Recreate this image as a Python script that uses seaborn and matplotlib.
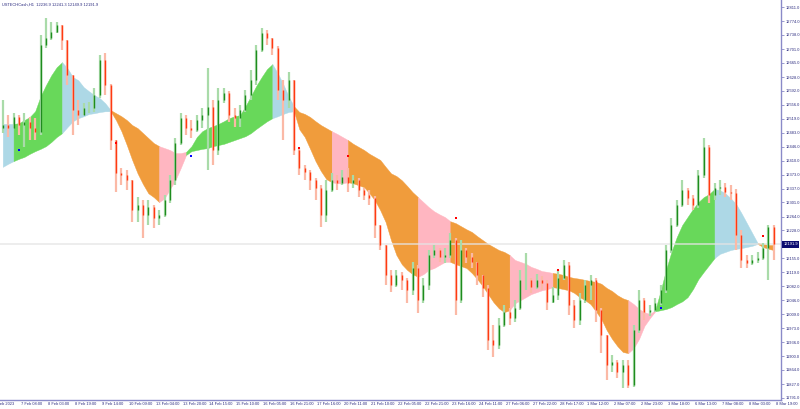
import matplotlib
matplotlib.use("Agg")
import matplotlib.pyplot as plt
import matplotlib.transforms as mtransforms
import seaborn as sns
import numpy as np
import pandas as pd

sns.set_style("white")
plt.rcParams['font.family'] = ['Liberation Sans', 'DejaVu Sans']

# --- data (H1 candles, resampled) ---
header = "USTECHCash,H1  12236.9 12241.3 12149.9 12191.9"
last_price = 12191.9
first_open = 12495

closes = [12503, 12495, 12524, 12503, 12511, 12495, 12485, 12712, 12730, 12746,
          12764, 12725, 12633, 12542, 12529, 12547, 12547, 12581, 12672, 12607,
          12464, 12378, 12372, 12359, 12281, 12294, 12268, 12289, 12260, 12268,
          12307, 12359, 12456, 12521, 12495, 12490, 12516, 12529, 12550, 12438,
          12568, 12586, 12529, 12521, 12542, 12581, 12620, 12699, 12743, 12730,
          12704, 12594, 12568, 12620, 12438, 12391, 12380, 12359, 12339, 12268,
          12333, 12359, 12352, 12367, 12352, 12359, 12333, 12320, 12312, 12242,
          12190, 12112, 12085, 12112, 12098, 12072, 12130, 12046, 12085, 12164,
          12177, 12158, 12164, 12203, 12046, 12177, 12158, 12145, 12112, 12078,
          11942, 11929, 11981, 12015, 11999, 12025, 12098, 12098, 12080, 12098,
          12091, 12041, 12059, 12104, 12138, 12033, 11994, 12046, 12085, 12098,
          12020, 11955, 11877, 11885, 11858, 11877, 11825, 11968, 12046, 12015,
          12020, 12038, 12072, 12177, 12242, 12294, 12333, 12312, 12294, 12372,
          12445, 12320, 12339, 12341, 12328, 12325, 12216, 12151, 12143, 12151,
          12156, 12182, 12236.9, 12191.9]

highs = [12568, 12529, 12534, 12529, 12534, 12524, 12521, 12738, 12782, 12772,
         12772, 12764, 12725, 12633, 12568, 12560, 12563, 12599, 12686, 12691,
         12610, 12464, 12391, 12385, 12359, 12315, 12307, 12307, 12295, 12281,
         12320, 12372, 12469, 12534, 12529, 12516, 12529, 12547, 12652, 12568,
         12599, 12599, 12592, 12547, 12555, 12594, 12646, 12712, 12756, 12751,
         12730, 12710, 12620, 12641, 12620, 12443, 12399, 12385, 12365, 12346,
         12359, 12378, 12372, 12385, 12391, 12372, 12365, 12339, 12333, 12318,
         12242, 12190, 12125, 12125, 12119, 12104, 12145, 12138, 12104, 12177,
         12190, 12182, 12182, 12221, 12208, 12203, 12182, 12169, 12145, 12112,
         12085, 11981, 11999, 12033, 12025, 12046, 12125, 12169, 12104, 12114,
         12109, 12098, 12080, 12125, 12151, 12145, 12046, 12065, 12098, 12112,
         12104, 12025, 11955, 11903, 11890, 11890, 11890, 11981, 12072, 12051,
         12033, 12051, 12085, 12190, 12260, 12307, 12359, 12339, 12320, 12385,
         12469, 12451, 12352, 12359, 12352, 12346, 12335, 12229, 12164, 12164,
         12171, 12195, 12242, 12241.3]

lows = [12482, 12472, 12495, 12477, 12445, 12464, 12464, 12477, 12704, 12725,
        12743, 12699, 12607, 12477, 12503, 12529, 12534, 12537, 12573, 12581,
        12438, 12328, 12346, 12333, 12250, 12250, 12208, 12242, 12234, 12242,
        12262, 12300, 12346, 12451, 12477, 12469, 12485, 12495, 12385, 12399,
        12425, 12560, 12511, 12498, 12498, 12537, 12568, 12607, 12693, 12712,
        12686, 12568, 12464, 12547, 12425, 12372, 12359, 12333, 12307, 12237,
        12250, 12328, 12333, 12346, 12328, 12339, 12315, 12307, 12294, 12208,
        12177, 12085, 12067, 12080, 12072, 12038, 12059, 12012, 12038, 12072,
        12156, 12145, 12143, 12156, 12007, 12040, 12143, 12130, 12085, 12054,
        11916, 11898, 11920, 11975, 11981, 11989, 12020, 12072, 12065, 12074,
        12072, 12020, 12038, 12046, 12098, 12007, 11973, 11981, 12040, 12046,
        11989, 11908, 11838, 11858, 11843, 11817, 11817, 11820, 11960, 11994,
        12005, 12015, 12033, 12065, 12170, 12236, 12288, 12294, 12281, 12286,
        12365, 12299, 12307, 12320, 12315, 12307, 12177, 12130, 12130, 12138,
        12143, 12150, 12098, 12149.9]

band_top = [12506, 12506, 12506, 12508, 12516, 12524, 12539, 12578, 12607, 12633,
            12654, 12667, 12651, 12628, 12620, 12602, 12591, 12581, 12573, 12560,
            12542, 12534, 12526, 12516, 12503, 12495, 12482, 12469, 12456, 12448,
            12443, 12438, 12430, 12430, 12433, 12448, 12472, 12487, 12495, 12500,
            12506, 12513, 12521, 12526, 12529, 12552, 12578, 12605, 12628, 12649,
            12662, 12638, 12610, 12578, 12552, 12537, 12532, 12524, 12513, 12503,
            12495, 12487, 12480, 12472, 12464, 12454, 12446, 12438, 12428, 12420,
            12412, 12394, 12377, 12370, 12359, 12344, 12328, 12315, 12302, 12289,
            12278, 12270, 12263, 12252, 12247, 12239, 12231, 12224, 12213, 12203,
            12193, 12185, 12177, 12172, 12164, 12151, 12146, 12141, 12133, 12128,
            12122, 12120, 12117, 12115, 12112, 12107, 12104, 12102, 12099, 12096,
            12094, 12089, 12078, 12070, 12059, 12051, 12046, 12036, 12023, 12015,
            12010, 12020, 12070, 12125, 12172, 12211, 12242, 12263, 12284, 12302,
            12315, 12323, 12336, 12333, 12325, 12312, 12297, 12273, 12247, 12221,
            12195, 12193, 12190, 12190]

band_bot = [12394, 12402, 12409, 12415, 12420, 12428, 12435, 12441, 12448, 12459,
            12472, 12482, 12498, 12513, 12521, 12526, 12532, 12534, 12537, 12539,
            12539, 12516, 12487, 12451, 12412, 12377, 12349, 12325, 12315, 12302,
            12312, 12336, 12359, 12391, 12425, 12435, 12438, 12441, 12443, 12448,
            12451, 12454, 12459, 12464, 12469, 12474, 12482, 12493, 12503, 12513,
            12521, 12526, 12532, 12537, 12539, 12492, 12472, 12441, 12409, 12383,
            12362, 12354, 12351, 12351, 12354, 12351, 12346, 12341, 12325, 12307,
            12281, 12250, 12203, 12164, 12140, 12125, 12114, 12107, 12114, 12125,
            12130, 12138, 12146, 12146, 12140, 12135, 12130, 12117, 12101, 12083,
            12062, 12041, 12025, 12015, 12020, 12038, 12046, 12054, 12062, 12067,
            12072, 12075, 12080, 12078, 12075, 12072, 12065, 12054, 12046, 12036,
            12017, 11997, 11968, 11945, 11926, 11911, 11908, 11921, 11945, 11979,
            11999, 12017, 12020, 12023, 12028, 12036, 12043, 12054, 12075, 12101,
            12120, 12138, 12156, 12167, 12172, 12177, 12180, 12182, 12185, 12188,
            12193, 12185, 12180, 12177]

# trend regimes (bar range, state)
regimes = [(2, 4, 'up_weak'), (4, 13, 'up'), (13, 22, 'up_weak'), (22, 31, 'down'),
           (31, 36, 'down_weak'), (36, 52, 'up'), (52, 56, 'up_weak'), (56, 63, 'down'),
           (63, 66, 'down_weak'), (66, 79, 'down'), (79, 85, 'down_weak'), (85, 96, 'down'),
           (96, 104, 'down_weak'), (104, 118, 'down'), (118, 123, 'down_weak'),
           (123, 134, 'up'), (134, 142, 'up_weak'), (142, 145, 'down')]

sell_bars = [23, 57, 66, 86, 105, 143]
sell_prices = [12456, 12443, 12422, 12260, 12125, 12213]
buy_bars = [5, 37, 124]
buy_prices = [12438, 12422, 12025]

tick_labels = ["6 Feb 2023", "7 Feb 08:00", "8 Feb 03:00", "8 Feb 19:00", "9 Feb 14:00",
               "10 Feb 09:00", "13 Feb 04:00", "13 Feb 20:00", "14 Feb 15:00", "15 Feb 10:00",
               "16 Feb 05:00", "16 Feb 21:00", "17 Feb 16:00", "20 Feb 11:00", "21 Feb 10:00",
               "22 Feb 05:00", "22 Feb 21:00", "23 Feb 16:00", "24 Feb 11:00", "27 Feb 06:00",
               "27 Feb 22:00", "28 Feb 17:00", "1 Mar 12:00", "2 Mar 07:00", "2 Mar 23:00",
               "3 Mar 18:00", "6 Mar 13:00", "7 Mar 08:00", "8 Mar 03:00", "8 Mar 19:00"]
price_ticks = [12811.0, 12774.0, 12738.0, 12701.0, 12665.0, 12628.0, 12592.0, 12556.0,
               12519.0, 12483.0, 12446.0, 12410.0, 12373.0, 12337.0, 12301.0, 12264.0,
               12228.0, 12155.0, 12119.0, 12082.0, 12046.0, 12009.0, 11973.0, 11936.0,
               11900.0, 11864.0, 11827.0, 11791.0]

regime_colors = {'up': '#68d85a', 'up_weak': '#add8e6', 'down': '#f09c3c', 'down_weak': '#ffb6c1'}
AXIS = '#8a8ac8'
TXT = '#2c2c80'

bars = np.arange(2, 2 + len(closes))
df = pd.DataFrame({"bar": bars, "open": [first_open] + closes[:-1], "high": highs,
                   "low": lows, "close": closes, "top": band_top, "bot": band_bot})

fig = plt.figure(figsize=(8, 4.09), dpi=100)
ax = fig.add_axes([0, 9 / 409, 781 / 800, 400 / 409])

# coloured band
for s, e, state in regimes:
    seg = df[(df.bar >= s) & (df.bar <= e)]
    c = regime_colors[state]
    ax.fill_between(seg.bar, seg.bot, seg.top, color=c, ec=c, lw=0.3, zorder=1)

# current price line
ax.axhline(last_price, color='#e4e4e4', lw=1.2, alpha=0.8, zorder=2)

# candles
up = df.close >= df.open
ax.vlines(df.bar[up], df.low[up], df.high[up], color='#a9dba9', lw=1.6, zorder=3)
ax.vlines(df.bar[~up], df.low[~up], df.high[~up], color='#fbb9a6', lw=1.6, zorder=3)
ax.vlines(df.bar[up], df.open[up], df.close[up], color='#1e8c1e', lw=1.0, zorder=4)
ax.vlines(df.bar[~up], df.open[~up], df.close[~up], color='#ff3a12', lw=1.0, zorder=4)

# signal dots
sns.scatterplot(x=sell_bars, y=sell_prices, color='#ff0000', marker='s', s=3,
                linewidth=0, ax=ax, zorder=5)
sns.scatterplot(x=buy_bars, y=buy_prices, color='#0000ff', marker='s', s=3,
                linewidth=0, ax=ax, zorder=5)

ax.set_xlim(1.484, 146.33)
ax.set_ylim(11785.7, 12829.3)

for sp in ['top', 'left']:
    ax.spines[sp].set_visible(False)
for sp in ['right', 'bottom']:
    ax.spines[sp].set_color(AXIS)
    ax.spines[sp].set_linewidth(1.0)

ax.yaxis.tick_right()
ax.set_yticks(price_ticks)
ax.set_yticklabels([f"{v:.1f}" for v in price_ticks])
ax.tick_params(axis='y', length=2, width=0.6, color=AXIS, pad=1.5,
               labelsize=2.9, labelcolor=TXT)

tick_pos = np.arange(len(tick_labels)) * 5
ax.set_xticks(tick_pos[1:])
ax.set_xticklabels([])
ax.tick_params(axis='x', length=3, width=0.6, color=AXIS)
for pos, lab in zip(tick_pos, tick_labels):
    ax.annotate(lab, xy=(pos, 0), xycoords=('data', 'axes fraction'), xytext=(1.3, -1.2),
                textcoords='offset points', ha='left', va='top', fontsize=2.9,
                color=TXT, annotation_clip=False)

trans = mtransforms.blended_transform_factory(ax.transAxes, ax.transData)
ax.text(1.003, last_price, f"{last_price:.1f}", transform=trans, fontsize=2.9,
        color='white', va='center', ha='left',
        bbox=dict(boxstyle='square,pad=0.3', fc='#0c0c70', ec='none'))

fig.text(0.002, 0.995, header, ha='left', va='top', fontsize=2.9, color=TXT)

fig.savefig("out.png", dpi=100)
